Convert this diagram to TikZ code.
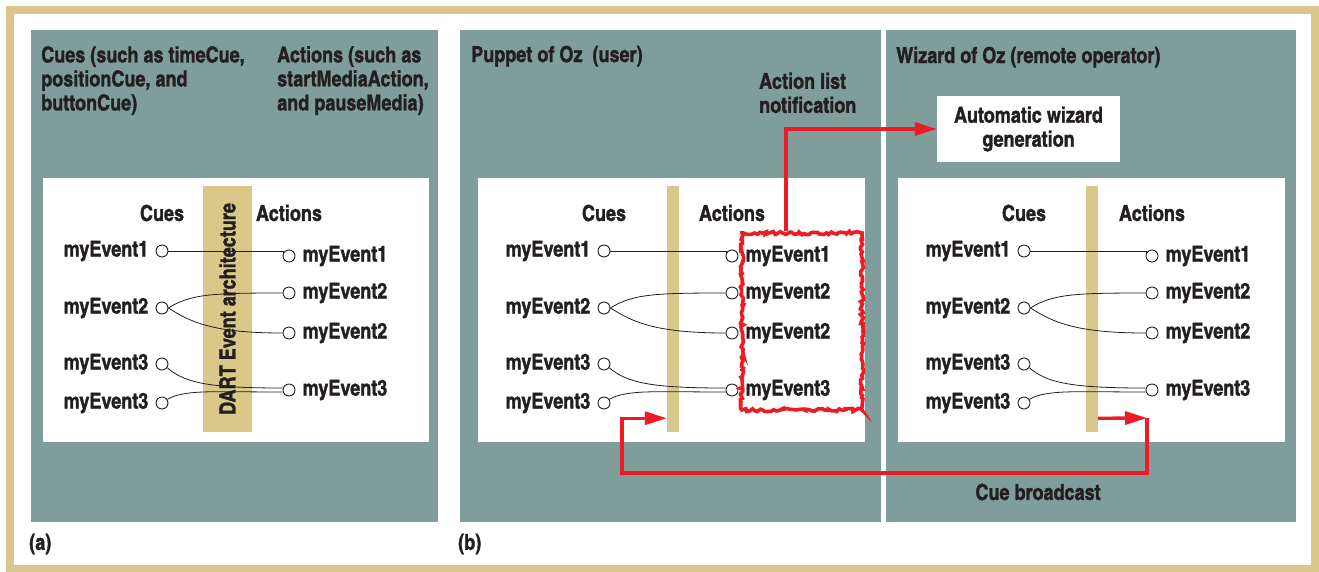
\documentclass[tikz,border=0pt]{standalone}
\usepackage{fontspec}
\usepackage{tikz}
\usetikzlibrary{positioning,arrows.meta,decorations.pathmorphing}

\newfontfamily\heroscn{texgyreheroscn-bold}[Extension=.otf, FakeBold=1.3]
\newcommand\ozfont{\heroscn\fontsize{22pt}{24pt}\selectfont}

\definecolor{ozgray}{RGB}{127,158,155}
\definecolor{oztan}{RGB}{217,200,137}
\definecolor{ozred}{RGB}{237,28,36}
\definecolor{ozink}{RGB}{35,31,32}

\tikzset{
    txt/.style={font=\ozfont, text=ozink, inner sep=0pt},
    port/.style={circle, draw=ozink, fill=white, line width=0.9pt,
                 minimum size=12pt, inner sep=0pt},
    wire/.style={draw=ozink, line width=0.8pt},
    barbox/.style={fill=oztan, inner sep=0pt, minimum height=246pt},
    redline/.style={draw=ozred, line width=3.3pt},
    redtip/.style={-{Triangle[length=22pt,width=13pt]}},
}

\begin{document}
\begin{tikzpicture}[x=1pt,y=-1pt]
        \useasboundingbox (0,0) rectangle (1319,571);

        % frame
        \draw[oztan, line width=8pt] (10,10) rectangle (1315,569);

        % panels
        \fill[ozgray] (31,30) rectangle (438,522);
        \fill[ozgray] (460,30) rectangle (881,522);
        \fill[ozgray] (886,30) rectangle (1296,522);
        \fill[white] (43,178) rectangle (429,442);
        \fill[white] (478,178) rectangle (865,442);
        \fill[white] (898,178) rectangle (1285,442);

        % panel titles
        \node[txt, anchor=north west, align=left] (cuetitle) at (41,46)
            {Cues (such as timeCue,\\positionCue, and\\buttonCue)};
        \node[txt, anchor=north west, align=left] (acttitle) at (277,46)
            {Actions (such as\\startMediaAction,\\and pauseMedia)};
        \node[txt, anchor=base west] (puppet) at (471,62) {Puppet of Oz~ (user)};
        \node[txt, anchor=base west] (wizard) at (896,63) {Wizard of Oz (remote operator)};
        \node[txt, anchor=north west, align=left] (notif) at (759,72.5)
            {Action list\\notification};

        % bars
        \node[barbox, minimum width=49pt] (abar) at (227.5,309) {};
        \node[barbox, minimum width=12pt] (pbar) at (673,309) {};
        \node[barbox, minimum width=12pt] (wbar) at (1092,309) {};

        % cues and actions
        \foreach \p/\cx/\ax in {a/162/289, p/604/732, w/1024/1152} {
            \node[txt] (cues\p) at (\cx,213) {Cues};
            \node[txt] (acts\p) at (\ax,213) {Actions};
            \node[port] (c1\p) at (\cx,251) {};
            \node[port] (c2\p) at (\cx,308) {};
            \node[port] (c3\p) at (\cx,364) {};
            \node[port] (c4\p) at (\cx,403) {};
            \node[port] (a1\p) at (\ax,256) {};
            \node[port] (a2\p) at (\ax,293) {};
            \node[port] (a3\p) at (\ax,333) {};
            \node[port] (a4\p) at (\ax,390) {};
            \node[txt, left=7pt of c1\p] (lc1\p) {myEvent1};
            \node[txt, left=7pt of c2\p] (lc2\p) {myEvent2};
            \node[txt, left=7pt of c3\p] (lc3\p) {myEvent3};
            \node[txt, left=7pt of c4\p] (lc4\p) {myEvent3};
            \node[txt, right=7pt of a1\p] (la1\p) {myEvent1};
            \node[txt, right=7pt of a2\p] (la2\p) {myEvent2};
            \node[txt, right=7pt of a3\p] (la3\p) {myEvent2};
            \node[txt, right=7pt of a4\p] (la4\p) {myEvent3};
            \draw[wire] (c1\p.east) -- (c1\p.east -| a1\p.160) -- (a1\p.160);
            \draw[wire] (c2\p.east) .. controls +(22,-14) and +(-70,0) .. (a2\p.west);
            \draw[wire] (c2\p.east) .. controls +(22,14) and +(-70,0) .. (a3\p.west);
            \draw[wire] (c3\p.-35) .. controls +(18,16) and +(-70,0) .. ([yshift=2pt]a4\p.west);
            \draw[wire] (c4\p.35) .. controls +(18,-10) and +(-70,0) .. ([yshift=-2pt]a4\p.west);
        }
        \node[txt, rotate=90] (dart) at (abar) {DART Event architecture};

        % action list notification
        \node[draw=ozred, line width=3.6pt, decorate,
              decoration={random steps, segment length=2.5pt, amplitude=1.7pt},
              minimum width=120pt, minimum height=177pt, inner sep=0pt] (sel) at (802,321.5) {};
        \node[txt, fill=white, align=center, minimum width=183pt, minimum height=66pt] (auto)
            at (1028.5,129) {Automatic wizard\\generation};
        \draw[redline, redtip] ([xshift=-16pt]sel.north) |- (auto.west);

        % cue broadcast
        \coordinate (turn) at (1147,418);
        \coordinate (low) at (622,473);
        \draw[redline, redtip] ([yshift=14pt]wbar.south east) -- (turn);
        \draw[redline, redtip] (turn) |- (low) |- ([yshift=14pt]pbar.south west);
        \node[txt] (bcast) at (1038,492) {Cue broadcast};

        % sub-figure labels
        \node[txt, anchor=west] (laba) at (29,544) {(a)};
        \node[txt, anchor=west] (labb) at (458,544) {(b)};
    \end{tikzpicture}
\end{document}
